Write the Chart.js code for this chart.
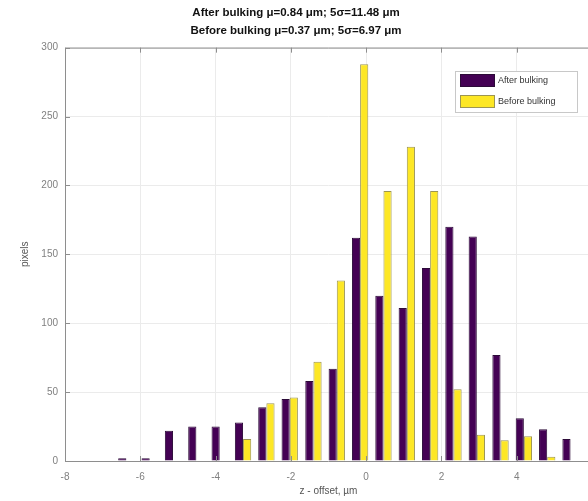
<!DOCTYPE html>
<html>
<head>
<meta charset="utf-8">
<script src="https://cdn.jsdelivr.net/npm/chart.js@4.4.1/dist/chart.umd.min.js"></script>
<style>
  html, body { margin: 0; padding: 0; overflow: hidden; background: #fff; }
  #wrap { width: 600px; height: 501px; }
</style>
</head>
<body>
<div id="wrap"><canvas id="histChart" width="600" height="501"></canvas></div>
<script>
// bin centres (z - offset, um)
var binCenters = [-6.37, -5.75, -5.13, -4.51, -3.89, -3.27, -2.65, -2.03, -1.40, -0.78,
  -0.16, 0.46, 1.08, 1.70, 2.32, 2.94, 3.57, 4.19, 4.81, 5.43]
// counts
var afterCounts = [2, 2, 22, 25, 25, 28, 39, 45, 58, 67, 162, 120, 111, 140, 170, 163, 77, 31, 23, 16]
var beforeCounts = [0, 0, 0, 0, 0, 16, 42, 46, 72, 131, 288, 196, 228, 196, 52, 19, 15, 18, 3, 0]
var seriesNames = ['After bulking', 'Before bulking']
var titleLines = ['After bulking \u03bc=0.84 \u03bcm; 5\u03c3=11.48 \u03bcm', 'Before bulking \u03bc=0.37 \u03bcm; 5\u03c3=6.97 \u03bcm']
var xTicks = [-8, -6, -4, -2, 0, 2, 4]
var yTicks = [0, 50, 100, 150, 200, 250, 300]

var FONT = '"Liberation Sans", Arial, sans-serif'
var purple = '#440154'
var yellow = '#fde725'

function toPoints(counts) {
  return binCenters.map((x, i) => ({ x: x, y: counts[i] }))
}

// frame, inward ticks and legend box (octave style)
var framePlugin = {
  id: 'frame',
  afterDatasetsDraw(chart) {
    const ctx = chart.ctx
    const a = chart.chartArea
    const xs = chart.scales.x
    const ys = chart.scales.y
    ctx.save()
    ctx.strokeStyle = '#8e8e8e'
    ctx.lineWidth = 1
    ctx.beginPath()
    ctx.moveTo(a.left + 0.5, a.bottom + 0.5)
    ctx.lineTo(a.left + 0.5, a.top + 0.5)
    ctx.lineTo(a.right, a.top + 0.5)
    ctx.moveTo(a.left, a.bottom + 0.5)
    ctx.lineTo(a.right, a.bottom + 0.5)
    xTicks.forEach((t) => {
      const px = Math.round(xs.getPixelForValue(t)) + 0.5
      ctx.moveTo(px, a.bottom)
      ctx.lineTo(px, a.bottom - 5)
      ctx.moveTo(px, a.top)
      ctx.lineTo(px, a.top + 5)
    })
    yTicks.forEach((t) => {
      const py = Math.round(ys.getPixelForValue(t)) + 0.5
      ctx.moveTo(a.left, py)
      ctx.lineTo(a.left + 5, py)
    })
    ctx.stroke()

    // legend
    const lx = 455, ly = 71, lw = 122, lh = 41
    ctx.fillStyle = '#fff'
    ctx.fillRect(lx, ly, lw, lh)
    ctx.strokeStyle = '#c8c8c8'
    ctx.strokeRect(lx + 0.5, ly + 0.5, lw, lh)
    chart.data.datasets.forEach((ds, i) => {
      const sy = 74 + i * 21
      ctx.fillStyle = ds.backgroundColor
      ctx.fillRect(460, sy, 34, 12)
      ctx.strokeStyle = ds.borderColor
      ctx.strokeRect(460.5, sy + 0.5, 34, 12)
      ctx.fillStyle = '#333'
      ctx.font = '9px ' + FONT
      ctx.textBaseline = 'middle'
      ctx.textAlign = 'left'
      ctx.fillText(ds.label, 498, sy + 6.5)
    })
    ctx.restore()
  },
}

var ctx = document.getElementById('histChart').getContext('2d')
var myChart = new Chart(ctx, {
  type: 'bar',
  data: {
    datasets: [
      {
        label: seriesNames[0],
        data: toPoints(afterCounts),
        backgroundColor: purple,
        borderColor: '#2c0b38',
        borderWidth: 1,
        borderSkipped: 'start',
      },
      {
        label: seriesNames[1],
        data: toPoints(beforeCounts),
        backgroundColor: yellow,
        borderColor: '#9c9552',
        borderWidth: 1,
        borderSkipped: 'start',
      },
    ],
  },
  options: {
    responsive: false,
    animation: false,
    events: [],
    categoryPercentage: 0.7,
    barPercentage: 1.0,
    layout: { padding: { left: 0, right: 8, top: 0, bottom: 0 } },
    plugins: {
      legend: { display: false },
      tooltip: { enabled: false },
      title: {
        display: true,
        text: titleLines,
        color: '#111',
        font: { family: FONT, size: 11.5, weight: 'bold', lineHeight: 1.55 },
        padding: { top: 4, bottom: 8 },
      },
    },
    scales: {
      x: {
        type: 'linear',
        min: -8,
        max: 6,
        offset: false,
        afterBuildTicks: (s) => { s.ticks = xTicks.map((v) => ({ value: v })) },
        afterFit: (s) => { s.height = 40 },
        ticks: { color: '#808080', font: { family: FONT, size: 10 }, padding: 10 },
        grid: { color: '#ebebeb', drawTicks: false, offset: false },
        border: { display: false },
        title: {
          display: true,
          text: 'z - offset, \u00b5m',
          color: '#555',
          font: { family: FONT, size: 10 },
          padding: { top: 2, bottom: 4 },
        },
      },
      y: {
        min: 0,
        max: 300,
        afterBuildTicks: (s) => { s.ticks = yTicks.map((v) => ({ value: v })) },
        afterFit: (s) => { s.width = 65 },
        ticks: { color: '#808080', font: { family: FONT, size: 10 }, padding: 7 },
        grid: { color: '#ebebeb', drawTicks: false },
        border: { display: false },
        title: {
          display: true,
          text: 'pixels',
          color: '#555',
          font: { family: FONT, size: 10 },
          padding: { top: 19, bottom: 0 },
        },
      },
    },
  },
  plugins: [framePlugin],
})
</script>
</body>
</html>
